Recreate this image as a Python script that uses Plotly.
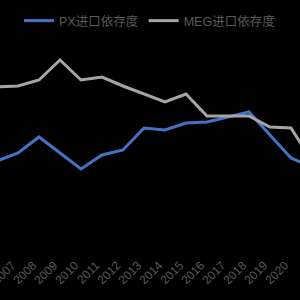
import plotly.graph_objects as go

years = list(range(2006, 2022))
px_dep = [37.6, 40.8, 47.2, 40.8, 34.4, 40.0, 42.0, 50.8, 50.0, 52.8, 53.2, 55.2, 57.2, 48.0, 38.8, 35.2]
meg_dep = [67.2, 67.6, 70.0, 78.0, 70.0, 71.2, 67.6, 64.4, 61.2, 64.4, 55.6, 55.6, 55.6, 51.2, 50.8, 37.6]
tick_labels = [str(y) for y in years]

fig = go.Figure()
fig.add_trace(go.Scatter(x=years, y=px_dep, mode="lines", name="PX进口依存度",
                         line=dict(color="#4472C4", width=3)))
fig.add_trace(go.Scatter(x=years, y=meg_dep, mode="lines", name="MEG进口依存度",
                         line=dict(color="#A5A5A5", width=3)))

fig.update_layout(
    width=300, height=300,
    paper_bgcolor="#000000", plot_bgcolor="#000000",
    margin=dict(l=0, r=0, t=40, b=45, autoexpand=False),
    font=dict(family="Liberation Sans, Noto Sans CJK SC, sans-serif", color="#595959", size=12),
    showlegend=True,
    legend=dict(orientation="h", x=0.5, xanchor="center", yref="container", y=0.93, yanchor="middle",
                font=dict(size=12.5, color="#595959"), itemwidth=30,
                bgcolor="rgba(0,0,0,0)"),
    xaxis=dict(range=[2006.143, 2020.43], tickvals=years, ticktext=tick_labels,
               tickangle=-45, showgrid=False, zeroline=False, showline=False,
               automargin=False, ticklabeloverflow="allow", ticklabelshift=-6,
               tickfont=dict(size=12, color="#595959")),
    yaxis=dict(range=[0, 86], showgrid=False, zeroline=False, showline=False,
               showticklabels=False, automargin=False),
)

fig.write_html("out.html")
